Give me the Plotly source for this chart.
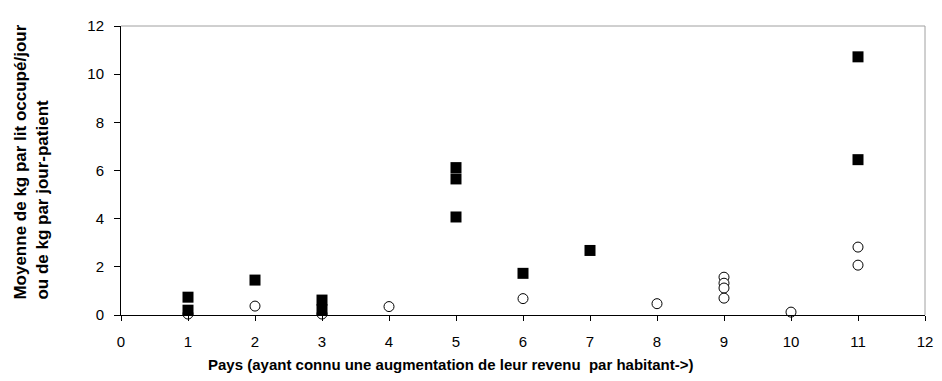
import plotly.graph_objects as go

# Filled squares series
sq_x = [1, 1, 2, 3, 3, 5, 5, 5, 6, 7, 11, 11]
sq_y = [0.74, 0.2, 1.45, 0.62, 0.22, 6.12, 5.65, 4.07, 1.73, 2.68, 10.72, 6.45]

# Open circles series
ci_x = [1, 2, 3, 4, 6, 8, 9, 9, 9, 9, 10, 11, 11]
ci_y = [0.04, 0.37, 0.04, 0.35, 0.68, 0.47, 1.57, 1.32, 1.12, 0.7, 0.12, 2.82, 2.07]

x_ticks = list(range(0, 13))
y_ticks = [0, 2, 4, 6, 8, 10, 12]

FONT = "Liberation Sans, Arial, sans-serif"

fig = go.Figure()
fig.add_trace(go.Scatter(
    x=ci_x, y=ci_y, mode="markers",
    marker=dict(symbol="circle", size=10, color="white",
                line=dict(color="black", width=1)),
    showlegend=False, cliponaxis=False))
fig.add_trace(go.Scatter(
    x=sq_x, y=sq_y, mode="markers",
    marker=dict(symbol="square", size=11, color="black",
                line=dict(color="black", width=0)),
    showlegend=False, cliponaxis=False))

fig.update_layout(
    width=934, height=373,
    margin=dict(l=113, r=9, t=12, b=66),
    paper_bgcolor="white", plot_bgcolor="white",
    font=dict(family=FONT, color="black"),
    xaxis=dict(range=[0, 12], tickvals=x_ticks, ticks="outside", ticklen=5,
               tickcolor="black", showline=True, linecolor="black", linewidth=1,
               showgrid=False, zeroline=False, tickfont=dict(size=15),
               ticklabelstandoff=8),
    yaxis=dict(range=[0, 12], tickvals=y_ticks, ticks="outside", ticklen=6,
               tickcolor="black", showline=True, linecolor="black", linewidth=1,
               showgrid=False, zeroline=False, tickfont=dict(size=15),
               ticklabelstandoff=7),
    shapes=[
        dict(type="line", xref="paper", yref="paper", x0=0, x1=1, y0=1, y1=1,
             line=dict(color="#a0a0a0", width=1)),
        dict(type="line", xref="paper", yref="paper", x0=1, x1=1, y0=0, y1=1,
             line=dict(color="#a0a0a0", width=1)),
    ],
    annotations=[
        dict(text="<b>Pays (ayant connu une augmentation de leur revenu  par habitant-&gt;)</b>",
             xref="paper", yref="paper", x=0.411, y=-0.173, xanchor="center",
             yanchor="middle", showarrow=False, font=dict(size=15)),
        dict(text="<b>Moyenne de kg par lit occupé/jour<br>ou de kg par jour-patient</b>",
             xref="paper", yref="paper", x=-0.111, y=0.53, xanchor="center",
             yanchor="middle", showarrow=False, textangle=-90,
             font=dict(size=17), align="left"),
    ],
)

fig.write_html("out.html")
